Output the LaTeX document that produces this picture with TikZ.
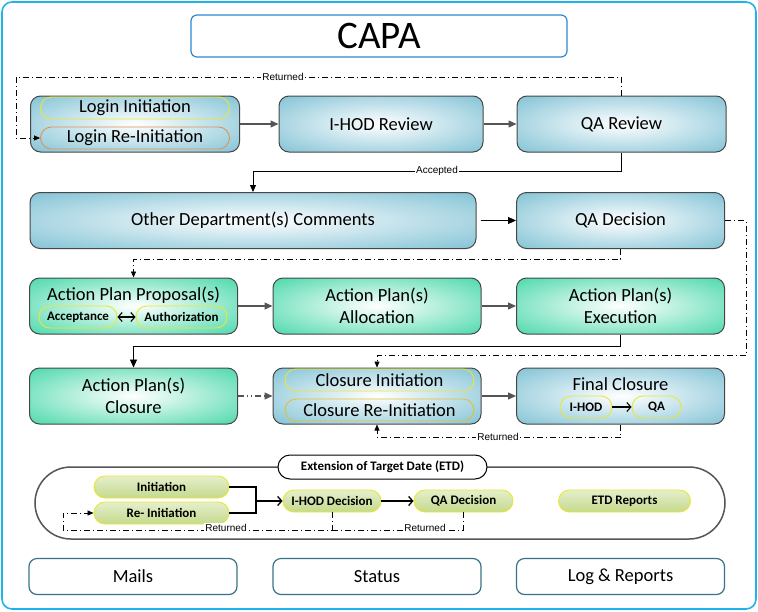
\documentclass[tikz,border=0pt]{standalone}
\usepackage{fontspec}
\setmainfont{Carlito}
\newfontfamily\lblfont{Liberation Sans}
\usetikzlibrary{arrows.meta}
\definecolor{framecol}{RGB}{30,180,235}
\definecolor{capacol}{RGB}{45,135,210}
\definecolor{boxblue}{RGB}{108,184,206}
\definecolor{boxgreen}{RGB}{44,210,156}
\definecolor{etdgreen}{RGB}{196,218,140}
\definecolor{ovalyellow}{RGB}{235,230,50}
\definecolor{ovalorange}{RGB}{225,145,85}
\definecolor{edgegray}{RGB}{70,70,70}
\definecolor{arrgray}{RGB}{85,85,85}
\definecolor{footcol}{RGB}{55,115,135}
\newcommand{\boxFont}[0]{\fontsize{18.5}{22}\selectfont}
\newcommand{\smallBold}[0]{\fontsize{13}{15}\selectfont\bfseries}
\newcommand{\lblFont}[0]{\lblfont\fontsize{10}{12}\selectfont}
\pgfdeclareradialshading{blueglow}{\pgfpoint{0bp}{0bp}}{color(0bp)=(white); color(42bp)=(boxblue); color(71bp)=(boxblue)}
\pgfdeclareradialshading{greenglow}{\pgfpoint{0bp}{0bp}}{color(0bp)=(white); color(42bp)=(boxgreen); color(71bp)=(boxgreen)}

\begin{document}
\begin{tikzpicture}[x=1pt, y=-1pt]
  \tikzset{
    flowbox/.style={draw=edgegray, line width=1pt, rounded corners=10pt, minimum height=56pt, inner sep=0pt, font=\boxFont, align=center},
    bluebox/.style={flowbox, shading=blueglow},
    greenbox/.style={flowbox, shading=greenglow},
    pill/.style={draw=ovalyellow, line width=0.9pt, rounded corners=11pt, minimum height=22pt, inner sep=0pt},
    etdpill/.style={pill, top color=etdgreen!45, middle color=etdgreen!10, bottom color=etdgreen, font=\smallBold},
    footbox/.style={draw=footcol, line width=1.2pt, rounded corners=8pt, minimum width=208pt, minimum height=36pt, font=\boxFont},
    arr/.style={draw=arrgray, line width=1.2pt, -{Triangle[length=8pt,width=7pt]}},
    ret/.style={black, line width=0.7pt, dash pattern=on 6pt off 3pt on 1pt off 3pt, -{Triangle[length=6pt,width=5pt]}},
    barb/.style={black, line width=1.1pt, -{Straight Barb[length=4pt,width=9pt]}},
    lbl/.style={fill=white, inner sep=1pt, font=\lblFont},
  }
  \useasboundingbox (0,0) rectangle (758,611);
  \draw[framecol, line width=1.6pt, rounded corners=10pt] (2,2) rectangle (756,609);
  \node[draw=capacol, line width=1.2pt, rounded corners=6pt, minimum width=376pt, minimum height=42pt, font=\fontsize{39}{42}\selectfont] (capa) at (379,36) {CAPA};

  \node[bluebox, minimum width=209pt] (login) at (135,124) {};
  \node[pill, minimum width=189pt, font=\boxFont] (ini) at (135,108) {Login Initiation};
  \node[pill, draw=ovalorange, minimum width=189pt, font=\boxFont] (reini) at (135,138) {Login Re-Initiation};
  \node[bluebox, minimum width=204pt] (ihod) at (381,124) {I-HOD Review};
  \node[bluebox, minimum width=209pt] (qarev) at (621.5,124) {QA Review};

  \node[bluebox, minimum width=446pt] (other) at (253,220.5) {Other Department(s) Comments};
  \node[bluebox, minimum width=208pt] (qadec) at (620.5,220.5) {QA Decision};

  \node[greenbox, minimum width=208pt] (proposal) at (133.5,306) {};
  \node[font=\boxFont, inner sep=0pt] (proptext) at (133.5,295) {Action Plan Proposal(s)};
  \node[pill, minimum width=78pt, font=\smallBold] (accept) at (78,317) {Acceptance};
  \node[pill, minimum width=91pt, font=\smallBold] (author) at (181.5,317) {Authorization};
  \node[greenbox, minimum width=208pt] (alloc) at (377,306) {Action Plan(s)\\Allocation};
  \node[greenbox, minimum width=208pt] (exec) at (620.5,306) {Action Plan(s)\\Execution};

  \node[greenbox, minimum width=208pt] (apclose) at (133.5,396) {Action Plan(s)\\Closure};
  \node[bluebox, minimum width=208pt] (closure) at (377,396) {};
  \node[pill, minimum width=189pt, font=\boxFont] (cini) at (379.5,380) {Closure Initiation};
  \node[pill, draw={rgb,255:red,230;green,190;blue,50}, minimum width=189pt, font=\boxFont] (creini) at (379.5,410) {Closure Re-Initiation};
  \node[bluebox, minimum width=208pt] (final) at (620.5,396) {};
  \node[font=\boxFont, inner sep=0pt] (finaltext) at (620.5,384) {Final Closure};
  \node[pill, minimum width=52pt, font=\smallBold] (fihod) at (586,407) {I-HOD};
  \node[pill, minimum width=49pt, font=\smallBold] (fqa) at (656.5,407) {QA};

  \draw[arr] (login) -- (ihod);
  \draw[arr] (ihod) -- (qarev);
  \draw[ret] (qarev.north) |- (16,77) |- (reini.west);
  \node[lbl] (ret1) at (283,77) {Returned};
  \draw[black, line width=0.8pt, -{Triangle[length=7pt,width=6pt]}] (qarev.south) -- ++(0,19) -| (other.north);
  \node[lbl] (acc) at (437,171) {Accepted};
  \draw[black, line width=0.9pt, -{Triangle[length=8pt,width=7pt]}] ([xshift=4pt]other.east) -- (qadec.west);
  \draw[ret] (qadec.south) -- ++(0,10) -| (proposal.north);
  \draw[ret] (qadec.east) -- (746,220.5) -- (746,355) -| (closure.north);
  \draw[arr] (proposal) -- (alloc);
  \draw[arr] (alloc) -- (exec);
  \draw[{Straight Barb[length=4pt,width=9pt]}-{Straight Barb[length=4pt,width=9pt]}, line width=1.1pt] (accept) -- (author);
  \draw[black, line width=0.9pt, -{Triangle[length=8pt,width=7pt]}] (exec.south) -- ++(0,12) -| (apclose.north);
  \draw[draw=arrgray, line width=1.2pt, dash pattern=on 6pt off 3pt on 1pt off 3pt on 1pt off 3pt, -{Triangle[length=8pt,width=7pt]}] (apclose) -- (closure);
  \draw[arr] (closure) -- (final);
  \draw[barb] (fihod) -- (fqa);
  \draw[ret] (final.south) -- ++(0,13) -| (closure.south);
  \node[lbl] (ret2) at (498,437) {Returned};

  \draw[draw=arrgray, line width=1.5pt, rounded corners=36pt] (35,467) rectangle (725,539);
  \node[draw=black, line width=1pt, fill=white, rounded corners=12pt, minimum width=209pt, minimum height=24pt, font=\smallBold] (etd) at (382.5,467) {Extension of Target Date (ETD)};
  \node[etdpill, minimum width=135pt] (etdini) at (161.5,487) {Initiation};
  \node[etdpill, minimum width=135pt] (etdreini) at (161.5,513) {Re- Initiation};
  \node[etdpill, minimum width=98pt] (etdihod) at (332,501) {I-HOD Decision};
  \node[etdpill, minimum width=99pt] (etdqa) at (463.5,501) {QA Decision};
  \node[etdpill, minimum width=132pt] (etdrep) at (624.5,501) {ETD Reports};
  \coordinate (join) at (256,501);
  \coordinate (retjoin) at (332,530);
  \draw[black, line width=1.3pt] (etdini.east) -| (join);
  \draw[black, line width=1.3pt] (etdreini.east) -| (join);
  \draw[barb, line width=1.3pt] (join) -- (etdihod.west);
  \draw[barb, line width=1.3pt] (etdihod) -- (etdqa);
  \draw[ret] (etdihod.south) |- (63,530) |- (etdreini.west);
  \draw[ret, -] (etdqa.south) |- (retjoin);
  \node[lbl] (ret3) at (226,528) {Returned};
  \node[lbl] (ret4) at (425,528) {Returned};

  \node[footbox] (mails) at (133,576.5) {Mails};
  \node[footbox] (status) at (377,576.5) {Status};
  \node[footbox] (logs) at (620.5,576.5) {Log \& Reports};
\end{tikzpicture}
\end{document}
